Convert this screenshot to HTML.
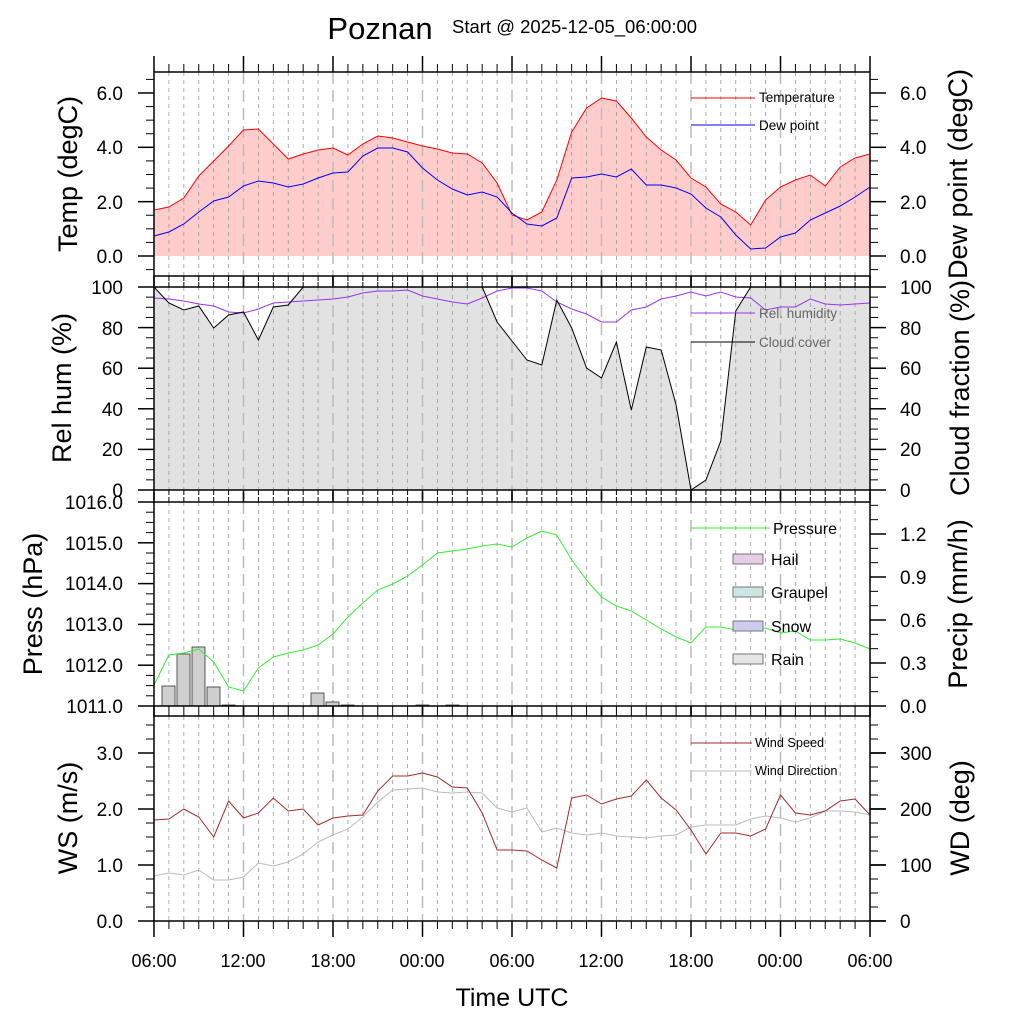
<!DOCTYPE html>
<html><head><meta charset="utf-8"><style>
html,body{margin:0;padding:0;background:#fff;}
svg{display:block;font-family:"Liberation Sans",sans-serif;}
</style></head><body>
<svg id="s" width="1024" height="1024" xmlns="http://www.w3.org/2000/svg">
<rect width="1024" height="1024" fill="#fff"/>
<g id="g"></g>
<text x="380" y="39" font-size="31" text-anchor="middle">Poznan</text>
<text x="452" y="33" font-size="18.5">Start @ 2025-12-05_06:00:00</text>
<g font-size="19" text-anchor="end">
<text x="123" y="263">0.0</text><text x="123" y="209">2.0</text><text x="123" y="154">4.0</text><text x="123" y="100">6.0</text>
<text x="123" y="497">0</text><text x="123" y="456">20</text><text x="123" y="416">40</text><text x="123" y="375">60</text><text x="123" y="335">80</text><text x="123" y="294">100</text>
<text x="123" y="713">1011.0</text><text x="123" y="672">1012.0</text><text x="123" y="631">1013.0</text><text x="123" y="590">1014.0</text><text x="123" y="550">1015.0</text><text x="123" y="509">1016.0</text>
<text x="123" y="928">0.0</text><text x="123" y="872">1.0</text><text x="123" y="816">2.0</text><text x="123" y="760">3.0</text>
</g>
<g font-size="19" text-anchor="start">
<text x="900" y="263">0.0</text><text x="900" y="209">2.0</text><text x="900" y="154">4.0</text><text x="900" y="100">6.0</text>
<text x="900" y="497">0</text><text x="900" y="456">20</text><text x="900" y="416">40</text><text x="900" y="375">60</text><text x="900" y="335">80</text><text x="900" y="294">100</text>
<text x="900" y="713">0.0</text><text x="900" y="670">0.3</text><text x="900" y="627">0.6</text><text x="900" y="584">0.9</text><text x="900" y="541">1.2</text>
<text x="900" y="928">0</text><text x="900" y="872">100</text><text x="900" y="816">200</text><text x="900" y="760">300</text>
</g>
<g font-size="27" text-anchor="middle">
<text transform="translate(77,174) rotate(-90)">Temp (degC)</text>
<text transform="translate(71,388) rotate(-90)">Rel hum (%)</text>
<text transform="translate(42,604) rotate(-90)">Press (hPa)</text>
<text transform="translate(77,818) rotate(-90)">WS (m/s)</text>
<text transform="translate(967,174) rotate(-90)">Dew point (degC)</text>
<text transform="translate(969,388) rotate(-90)">Cloud fraction (%)</text>
<text transform="translate(967,604) rotate(-90)">Precip (mm/h)</text>
<text transform="translate(969,818) rotate(-90)">WD (deg)</text>
</g>
<g font-size="18" text-anchor="middle">
<text x="154" y="967">06:00</text><text x="243" y="967">12:00</text><text x="333" y="967">18:00</text><text x="422" y="967">00:00</text><text x="512" y="967">06:00</text><text x="601" y="967">12:00</text><text x="691" y="967">18:00</text><text x="780" y="967">00:00</text><text x="870" y="967">06:00</text>
</g>
<text x="512" y="1006" font-size="25" text-anchor="middle">Time UTC</text>
<g font-size="13.5">
<line x1="691" y1="98" x2="755" y2="98" stroke="#f00"/><text x="759" y="102">Temperature</text>
<line x1="691" y1="125" x2="755" y2="125" stroke="#00f"/><text x="759" y="130">Dew point</text>
<line x1="691" y1="313" x2="755" y2="313" stroke="#9933ee"/><text x="759" y="318" fill="#666">Rel. humidity</text>
<line x1="691" y1="342" x2="755" y2="342" stroke="#000"/><text x="759" y="347" fill="#666">Cloud cover</text>
</g>
<g font-size="12.7">
<line x1="691" y1="743" x2="752" y2="743" stroke="#a52a2a"/><text x="755" y="747">Wind Speed</text>
<line x1="691" y1="771" x2="752" y2="771" stroke="#bbb"/><text x="755" y="775">Wind Direction</text>
</g>
<g font-size="16">
<line x1="691" y1="528" x2="770" y2="528" stroke="#33ee33"/><text x="773" y="534">Pressure</text>
<rect x="733" y="554" width="30" height="10" fill="#e6cce6" stroke="#777"/><text x="771" y="565">Hail</text>
<rect x="733" y="587" width="30" height="10" fill="#cce6e6" stroke="#777"/><text x="771" y="598">Graupel</text>
<rect x="733" y="621" width="30" height="10" fill="#ccccee" stroke="#777"/><text x="771" y="632">Snow</text>
<rect x="733" y="654" width="30" height="10" fill="#e6e6e6" stroke="#777"/><text x="771" y="665">Rain</text>
</g>
</svg>
<script>
var NS="http://www.w3.org/2000/svg",G=document.getElementById('g');
function el(t,a){var e=document.createElementNS(NS,t);for(var k in a)e.setAttribute(k,a[k]);G.appendChild(e);return e;}
function X(i){return 154+i*716/48;}
function pts(a){return a.map(function(y,i){return X(i).toFixed(1)+','+y;}).join(' ');}
var L=154,R=870,P=[[72,276],[287,490],[502,706],[716,921]];
var T=[210,207,198,176,161,146,130,129,144,159,154,150,148,155,144,136,138,142,146,149,153,154,163,183,215,220,212,180,132,108,98,101,118,137,150,160,178,187,204,212,225,200,187,180,175,186,167,158,154];
var D=[236,232,224,212,201,197,186,181,183,187,184,178,173,172,156,148,148,152,168,180,189,195,192,197,213,224,226,218,178,177,174,177,169,185,185,188,194,208,217,235,249,248,237,233,220,213,206,197,187];
var C=[287,303,310,306,328,315,312,340,307,305,287,287,287,287,287,287,287,287,287,287,287,287,287,322,341,360,365,300,328,368,378,342,410,347,350,405,490,480,441,311,287,287,287,287,287,287,287,287,287];
var H=[298,299,301,304,306,312,313,309,303,302,301,300,299,297,293,291,291,290,296,299,302,304,298,291,288,288,291,302,309,314,322,322,310,307,299,296,292,296,292,297,298,310,307,307,299,304,305,304,303];
var Pr=[685,655,653,649,662,687,691,668,657,653,650,645,634,617,603,590,584,576,565,553,551,549,546,544,547,538,531,535,560,580,597,606,611,620,629,637,643,627,627,630,630,628,633,631,640,640,639,643,649];
var W=[820,819,809,817,837,801,818,813,798,811,809,825,818,816,815,791,776,776,773,777,787,788,813,850,850,851,860,868,798,795,804,799,796,780,798,810,830,854,833,833,836,829,795,813,815,811,801,799,815];
var WD=[876,873,875,870,880,880,877,863,866,862,854,842,835,829,817,802,790,789,788,792,793,792,793,808,812,808,832,828,833,835,833,836,837,838,836,835,827,825,825,825,819,816,818,822,818,811,811,812,815];
el('polygon',{points:L+',256 '+pts(T)+' '+R+',256',fill:'#ffcccc'});
el('polygon',{points:L+',490 '+pts(C)+' '+R+',490',fill:'#e2e2e2'});
P.forEach(function(p){for(var i=1;i<48;i++){var x=X(i);if(i%6==0)el('line',{x1:x,y1:p[0],x2:x,y2:p[1],stroke:'#bbb','stroke-width':1.5,'stroke-dasharray':'12,6'});else el('line',{x1:x,y1:p[0],x2:x,y2:p[1],stroke:'#999','stroke-width':0.8,'stroke-dasharray':'4,4'});}});
[[162,686],[177,654],[192,647],[207,687],[222,705],[311,693],[326,702],[341,705],[416,705],[446,705]].forEach(function(b){el('rect',{x:b[0],y:b[1],width:13,height:706-b[1],fill:'#cfcfcf',stroke:'#333','stroke-width':0.8});});
el('polyline',{points:pts(T),fill:'none',stroke:'#f00','stroke-width':1});
el('polyline',{points:pts(D),fill:'none',stroke:'#00f','stroke-width':1});
el('polyline',{points:pts(H),fill:'none',stroke:'#9933ee','stroke-width':1});
el('polyline',{points:pts(C),fill:'none',stroke:'#000','stroke-width':1});
el('polyline',{points:pts(Pr),fill:'none',stroke:'#33ee33','stroke-width':1});
el('polyline',{points:pts(WD),fill:'none',stroke:'#bbb','stroke-width':1});
el('polyline',{points:pts(W),fill:'none',stroke:'#a52a2a','stroke-width':1});
P.forEach(function(p){el('rect',{x:L,y:p[0],width:R-L,height:p[1]-p[0],fill:'none',stroke:'#000','stroke-width':1.5});
for(var i=0;i<=48;i++){var x=X(i),m=i%6==0;el('line',{x1:x,y1:p[0],x2:x,y2:p[0]-(p[0]==72?(m?16:8):(m?10:5)),stroke:'#000','stroke-width':m?1.5:1});
el('line',{x1:x,y1:p[1],x2:x,y2:p[1]+(p[1]==921?(m?16:8):(m?10:5)),stroke:'#000','stroke-width':m?1.5:1});}});
function ytr(side,yz,unit,maj,min,top,bot){var dir=side=='L'?-1:1,x=side=='L'?L:R;for(var v=Math.ceil((yz-bot)/unit/min)*min;;v+=min){var y=yz-v*unit;if(y<top-0.5)break;if(y>bot+0.5)continue;var m=Math.abs(v/maj-Math.round(v/maj))<0.001;el('line',{x1:x,y1:y,x2:x+dir*(m?16:8),y2:y,stroke:'#000','stroke-width':m?1.5:1});}}
['L','R'].forEach(function(s){
ytr(s,256,27.17,2,0.5,72,276);
ytr(s,490,2.03,20,5,287,490);
ytr(s,921,56,1,0.25,716,921);});
ytr('L',706,40.8,1,0.25,502,706);
ytr('R',706,143.33,0.3,0.1,502,706);
ytr('R',921,0.56,100,25,716,921);
</script>
</body></html>
